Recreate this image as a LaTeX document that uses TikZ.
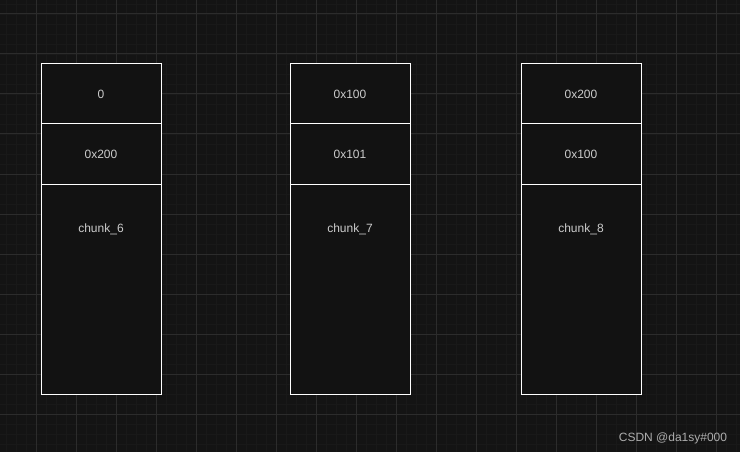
\documentclass[tikz,border=0pt]{standalone}
\usepackage{fontspec}
\setmainfont{Liberation Sans}
\definecolor{bgcol}{HTML}{141414}
\definecolor{boxcol}{HTML}{121212}
\definecolor{majorcol}{HTML}{2C2C2C}
\definecolor{minorcol}{HTML}{191919}
\definecolor{txtcol}{HTML}{CCCCCC}
\tikzset{
    cell/.style={draw=white,line width=1pt,fill=boxcol,minimum width=120pt,
        inner sep=0pt,outer sep=0pt,text=txtcol},
    small cell/.style={cell,minimum height=60pt},
    big cell/.style={cell,minimum height=210pt}
}
\newcommand\chunkcol[5]{
        \node[small cell] (#1top) at (#2,94) {#3};
        \node[small cell] (#1mid) at (#2,154) {#4};
        \node[big cell] (#1big) at (#2,289) {};
        \node[text=txtcol] (#1name) at (#2,229.5) {#5};
}

\begin{document}
\begin{tikzpicture}[x=1pt,y=-1pt,font=\fontsize{12pt}{14pt}\selectfont]

    %background and grid:
    \fill[bgcol] (0,0) rectangle (740,452);
    \useasboundingbox (0,0) rectangle (740,452);
    \foreach \x in {6,16,...,736} {
        \draw[minorcol,line width=0.8pt] (\x,0) -- (\x,452);
    }
    \foreach \y in {4,14,...,452} {
        \draw[minorcol,line width=0.8pt] (0,\y) -- (740,\y);
    }
    \foreach \x in {36,76,...,716} {
        \draw[majorcol,line width=1pt] (\x,0) -- (\x,452);
    }
    \foreach \y in {14,54,...,452} {
        \draw[majorcol,line width=1pt] (0,\y) -- (740,\y);
    }

    %draws the three chunks:
    \chunkcol{six}{101}{0}{0x200}{chunk\_6}
    \chunkcol{seven}{350}{0x100}{0x101}{chunk\_7}
    \chunkcol{eight}{581}{0x200}{0x100}{chunk\_8}

    \node[text=txtcol!85!black] (mark) at (673,438) {CSDN @da1sy\#000};

\end{tikzpicture}
\end{document}
